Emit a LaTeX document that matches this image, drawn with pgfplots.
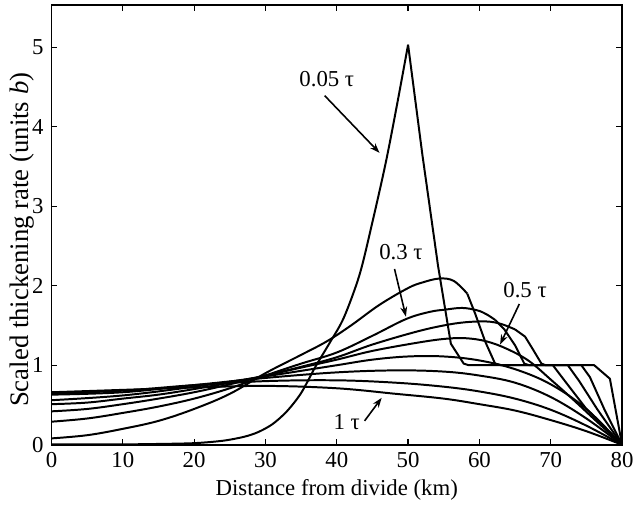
\documentclass[border=0pt]{standalone}
\usepackage{fontspec}
\setmainfont{Liberation Serif}
\usepackage{pgfplots}
\pgfplotsset{compat=1.18}
\usetikzlibrary{arrows.meta,calc}
\begin{document}
\fontsize{11.5}{13}\selectfont
\begin{tikzpicture}
\begin{axis}[
 width=288pt, height=222pt, scale only axis,
 xmin=0, xmax=80, ymin=0, ymax=5.53,
 xtick={0,10,...,80}, ytick={0,1,2,3,4,5},
 tick align=inside, major tick length=3pt,
 tick style={black, line width=0.6pt},
 axis line style={line width=0.8pt},
 /pgf/number format/assume math mode=true,
 ticklabel style={font=\fontsize{11.5}{13}\selectfont},
 xlabel style={font=\fontsize{11.5}{13}\selectfont, yshift=2pt},
 xlabel={Distance from divide (km)},
 cycle list={{black,solid,line width=1pt,mark=none}},
 every axis plot post/.append style={black, solid, line width=1pt, mark=none, line join=round},
]
% 0.05 tau
\addplot[smooth, tension=0.5] coordinates {(0,0.005) (10,0.005) (15,0.01) (20,0.02) (24,0.05) (27,0.1) (29,0.16) (31,0.26) (33,0.42) (35,0.65) (37,0.98) (39,1.28) (41,1.6) (43.2,2.14) (45,2.8) (46.9,3.56) (48.5,4.3) (50,5.03)};
\addplot coordinates {(50,5.03) (52,3.65) (54.2,2.25) (56,1.27) (57.8,1.02) (58.5,1.0) (76.1,1.0) (78.3,0.83) (80,0)};
% B
\addplot[smooth, tension=0.6] coordinates {(0,0.08) (5,0.12) (10,0.2) (15,0.3) (20,0.45) (25,0.64) (30,0.9) (35,1.13) (38.6,1.3) (42,1.5) (46,1.76) (50,1.97) (52,2.04) (54.4,2.09) (56.4,2.06) (58.3,1.9)};
\addplot coordinates {(58.3,1.9) (59.4,1.65) (60.8,1.3) (62.2,1.02) (63,1.0) (74.3,1.0) (75.5,0.85) (77.5,0.45) (80,0)};
% C (0.3 tau)
\addplot[smooth, tension=0.6] coordinates {(0,0.29) (5,0.33) (10,0.40) (15,0.48) (20,0.58) (25,0.71) (30,0.87) (35,1.02) (40,1.16) (45,1.37) (49.7,1.58) (53,1.67) (55.3,1.70) (57.6,1.72) (59.7,1.69) (61,1.64) (62.2,1.57)};
\addplot coordinates {(62.2,1.57) (63.5,1.45) (65,1.25) (66.3,1.02) (67,1.0) (72.4,1.0) (74,0.8) (76.5,0.45) (80,0)};
% D
\addplot[smooth, tension=0.6] coordinates {(0,0.42) (5,0.45) (10,0.51) (15,0.58) (20,0.66) (25,0.76) (30,0.87) (35,0.98) (40,1.1) (45,1.26) (51.1,1.42) (55,1.5) (58,1.54) (61,1.55) (63,1.52) (65,1.45)};
\addplot coordinates {(65,1.45) (66.4,1.36) (67.5,1.2) (68.7,1.02) (69.3,1.0) (70.3,1.0) (72,0.8) (75,0.45) (80,0)};
% E (0.5 tau)
\addplot[smooth, tension=0.6] coordinates {(0,0.51) (5,0.53) (10,0.58) (15,0.63) (20,0.70) (25,0.78) (30,0.87) (35,0.97) (40,1.07) (45,1.18) (51.1,1.28) (55,1.33) (58,1.34) (61,1.3) (64,1.2) (67,1.05) (70,0.82) (73,0.58) (76,0.33) (80,0)};
% F
\addplot[smooth, tension=0.6] coordinates {(0,0.56) (10,0.62) (20,0.73) (30,0.86) (40,1.0) (45,1.07) (50,1.11) (55,1.11) (60,1.06) (65,0.95) (70,0.76) (75,0.45) (80,0)};
% G
\addplot[smooth, tension=0.6] coordinates {(0,0.63) (10,0.66) (20,0.75) (30,0.84) (40,0.91) (48.3,0.935) (55,0.92) (60,0.87) (65,0.78) (70,0.6) (75,0.33) (80,0)};
% H
\addplot[smooth, tension=0.6] coordinates {(0,0.645) (10,0.68) (20,0.75) (30,0.8) (40,0.81) (48.3,0.78) (55,0.73) (60,0.67) (65,0.58) (70,0.44) (75,0.24) (80,0)};
% I (1 tau)
\addplot[smooth, tension=0.6] coordinates {(0,0.66) (10,0.69) (20,0.72) (30,0.74) (40,0.71) (48.3,0.64) (55,0.58) (60,0.51) (65,0.43) (70,0.31) (75,0.17) (80,0)};
% annotations
\node at (axis cs:38.6,4.60) {0.05 τ};
\draw[-{Stealth[length=5pt,width=3.5pt]}, line width=0.8pt] (axis cs:38.3,4.39) -- (axis cs:46,3.67);
\node at (axis cs:49.0,2.42) {0.3 τ};
\draw[-{Stealth[length=5pt,width=3.5pt]}, line width=0.8pt] (axis cs:48.1,2.21) -- (axis cs:49.7,1.61);
\node at (axis cs:66.4,1.95) {0.5 τ};
\draw[-{Stealth[length=5pt,width=3.5pt]}, line width=0.8pt] (axis cs:65.6,1.77) -- (axis cs:62.9,1.26);
\node at (axis cs:41.4,0.29) {1 τ};
\draw[-{Stealth[length=5pt,width=3.5pt]}, line width=0.8pt] (axis cs:43.9,0.30) -- (axis cs:46.3,0.59);
\end{axis}
\node[rotate=90, font=\fontsize{13.5}{15}\selectfont] at ([xshift=-15pt]$(current axis.south west)!0.466!(current axis.north west)$) {Scaled thickening rate (units \textit{b})};
\path ([xshift=-26pt,yshift=-29.5pt]current axis.south west) rectangle ([xshift=6.5pt,yshift=2.5pt]current axis.north east);
\end{tikzpicture}
\end{document}
